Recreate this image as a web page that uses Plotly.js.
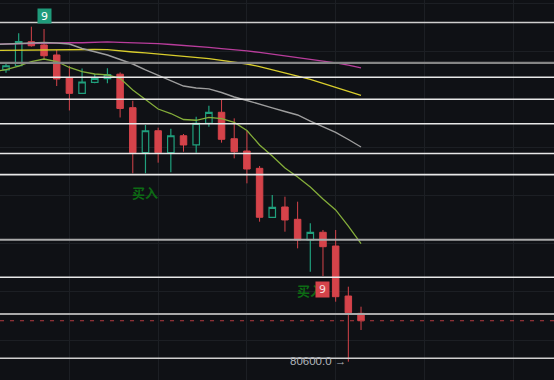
<!DOCTYPE html>
<html>
<head>
<meta charset="utf-8">
<script src="https://cdn.plot.ly/plotly-3.0.1.min.js"></script>
<style>
html,body{margin:0;padding:0;background:#0f1115;}
#chart{width:554px;height:380px;}
</style>
</head>
<body>
<div id="chart"></div>
<script>
// ---- data ----
const candleIndex = [0,1,2,3,4,5,6,7,8,9,10,11,12,13,14,15,16,17,18,19,20,21,22,23,24,25,26,27,28];
const openP  = [110940,111380,113880,113540,112500,110100,108510,109660,110030,110500,107020,102340,104620,102340,104100,103140,105390,106540,103790,102510,100710,95620,96690,95410,93260,94060,92630,87430,85630];
const highP  = [111630,114750,115440,115200,113020,111350,111090,110520,111110,110690,107740,105220,104940,104830,104280,106080,107220,107820,105910,104620,100950,97940,97760,97240,94990,94300,94300,88400,86320];
const lowP   = [110660,111280,113360,111980,109270,106730,108440,109550,109550,106000,100190,100190,101300,100300,102440,102340,105040,103380,101750,99150,95160,95560,94120,92390,89960,89510,86840,80600,83900];
const closeP = [111380,113880,113460,112420,110000,108510,109690,110070,110450,106930,102340,104620,102340,104100,103140,105390,106540,103730,102440,100640,95620,96660,95340,93260,94060,92560,87360,85700,84860];

// moving averages (first value belongs to the candle before the visible window)
const maIndex = [-1,0,1,2,3,4,5,6,7,8,9,10,11,12,13,14,15,16,17,18,19,20,21,22,23,24,25,26,27,28];
const maShort = [110780,110970,111350,111820,112080,111820,111200,110760,110520,110420,110070,108860,107870,106880,106410,105790,105710,106000,105890,105480,104650,103140,101990,100750,99810,98770,97520,96380,94710,92890];
const maMid   = [113590,113640,113690,113740,113800,113740,113640,113170,112860,112500,112030,111560,110940,110370,109790,109270,109070,108980,108600,108130,107770,107350,106990,106620,106260,105630,105060,104440,103710,102930];
const maLong  = [112970,112990,113020,113040,113060,113070,113070,113070,113070,113060,112970,112810,112710,112600,112450,112340,112240,112130,111930,111770,111560,111300,110990,110680,110310,109950,109530,109120,108720,108310];
const maXLong = [113610,113640,113690,113740,113770,113770,113770,113770,113820,113870,113820,113790,113770,113690,113590,113510,113410,113300,113170,113060,112930,112760,112580,112410,112240,112060,111880,111680,111440,111160];

// drawn horizontal levels
const levels = [115890,111680,110180,107890,105350,102250,100060,93280,89380,85560,80960];
const levelKind = ['light','gray','white','white','white','white','white','gray2','white','gray2','light'];

// signals
const buySignalIdx = [11,24];
const buyText = '买入';
const topNineIdx = 3;
const bottomNineIdx = 25;
const nineText = '9';

// ---- styles ----
const BG = '#0f1115';
const RED = '#d5434a';
const GREEN = '#20a07d';
const levelStyle = {
  light:{color:'#cfcfcf',width:1.5},
  white:{color:'#e8e8e8',width:1.6},
  gray:{color:'#858585',width:2.4},
  gray2:{color:'#aaaaaa',width:2}
};

const traces = [
  {
    type:'candlestick', x:candleIndex, open:openP, high:highP, low:lowP, close:closeP,
    increasing:{line:{color:GREEN,width:1.2}, fillcolor:BG},
    decreasing:{line:{color:RED,width:1}, fillcolor:RED},
    whiskerwidth:0, hoverinfo:'skip', showlegend:false
  },
  {type:'scatter',mode:'lines',x:maIndex,y:maXLong,line:{color:'#b93d9c',width:1.3},hoverinfo:'skip',showlegend:false},
  {type:'scatter',mode:'lines',x:maIndex,y:maLong,line:{color:'#d9cd2c',width:1.3},hoverinfo:'skip',showlegend:false},
  {type:'scatter',mode:'lines',x:maIndex,y:maMid,line:{color:'#9e9e9e',width:1.4},hoverinfo:'skip',showlegend:false},
  {type:'scatter',mode:'lines',x:maIndex,y:maShort,line:{color:'#84ad3a',width:1.3},hoverinfo:'skip',showlegend:false}
];

const shapes = levels.map((v,i)=>({
  type:'line', xref:'paper', x0:0, x1:1, yref:'y', y0:v, y1:v, layer:'above',
  line:{color:levelStyle[levelKind[i]].color, width:levelStyle[levelKind[i]].width}
}));
const last = closeP.length-1;
shapes.push({type:'line', xref:'paper', x0:0, x1:1, yref:'y', y0:closeP[last], y1:closeP[last], layer:'above',
  line:{color:'#b33a3f', width:1, dash:'4px,6px'}});

const annotations = [];
buySignalIdx.forEach(i=>{
  annotations.push({x:i, y:lowP[i], xref:'x', yref:'y', text:buyText, showarrow:false,
    yshift:-19, font:{family:'Noto Sans CJK SC', size:13, color:'#0d6a14', weight:'bold'}});
});
annotations.push({x:topNineIdx, y:highP[topNineIdx], xref:'x', yref:'y', text:nineText,
  showarrow:true, ax:0, ay:-13, arrowhead:0, arrowwidth:0.01, arrowcolor:'rgba(0,0,0,0)',
  bgcolor:'#1f9b7b', borderpad:1, width:11, height:12,
  font:{family:'DejaVu Sans', size:11, color:'#ffffff'}});
annotations.push({x:bottomNineIdx, y:lowP[bottomNineIdx], xref:'x', yref:'y', text:nineText,
  showarrow:true, ax:0, ay:13.5, arrowhead:0, arrowwidth:0.01, arrowcolor:'rgba(0,0,0,0)',
  bgcolor:'#d5434a', borderpad:1, width:11, height:13,
  font:{family:'DejaVu Sans', size:11, color:'#f6dede'}});
const minLow = Math.min(...lowP);
const minIdx = lowP.indexOf(minLow);
annotations.push({x:minIdx, y:minLow, xref:'x', yref:'y', text:minLow.toFixed(1)+' →',
  showarrow:false, xanchor:'right', yanchor:'middle', xshift:0, yshift:1,
  font:{family:'Liberation Sans', size:11.5, color:'#b0b4ba'}});

const layout = {
  width:554, height:380, margin:{l:0,r:0,t:0,b:0},
  paper_bgcolor:BG, plot_bgcolor:BG, boxgap:0.27,
  showlegend:false, hovermode:false,
  xaxis:{range:[-0.473,43.22], showticklabels:false, zeroline:false, showline:false,
    showgrid:true, gridcolor:'#1c1f24', gridwidth:1, tick0:5, dtick:7, ticks:'',
    rangeslider:{visible:false}, fixedrange:true},
  yaxis:{range:[78697,118217], showticklabels:false, zeroline:false, showline:false,
    showgrid:true, gridcolor:'#1c1f24', gridwidth:1, tick0:82857, dtick:5000, ticks:'', fixedrange:true},
  shapes:shapes, annotations:annotations
};

Plotly.newPlot('chart', traces, layout, {staticPlot:true, displayModeBar:false});
</script>
</body>
</html>
